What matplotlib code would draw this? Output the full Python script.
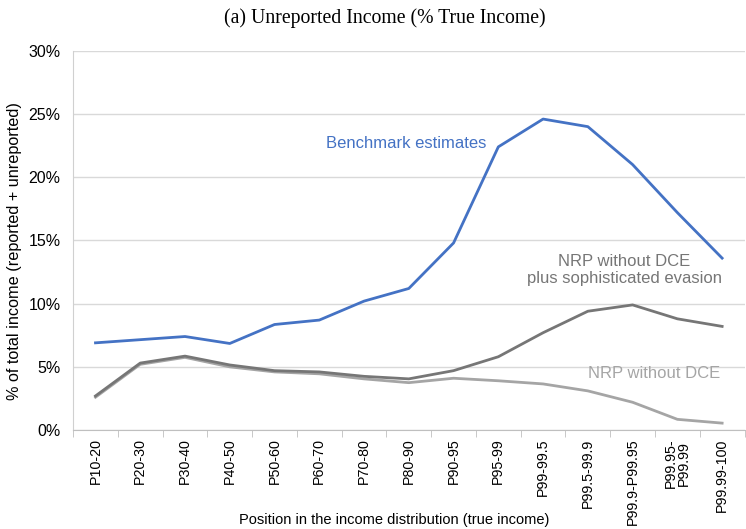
import matplotlib.pyplot as plt
import numpy as np
from matplotlib.ticker import PercentFormatter

plt.rcParams['font.family'] = ['Liberation Sans', 'DejaVu Sans']

# Income groups along the true-income distribution
groups = ['P10-20', 'P20-30', 'P30-40', 'P40-50', 'P50-60', 'P60-70', 'P70-80',
          'P80-90', 'P90-95', 'P95-99', 'P99-99.5', 'P99.5-99.9', 'P99.9-P99.95',
          'P99.95-\nP99.99', 'P99.99-100']

# Unreported income as % of total income
benchmark = [6.9, 7.15, 7.4, 6.85, 8.35, 8.7, 10.2, 11.2, 14.8, 22.4, 24.6, 24.0, 21.0, 17.2, 13.6]
nrp_sophisticated = [2.7, 5.3, 5.85, 5.15, 4.7, 4.6, 4.25, 4.05, 4.7, 5.8, 7.7, 9.4, 9.9, 8.8, 8.2]
nrp_no_dce = [2.6, 5.2, 5.75, 5.0, 4.6, 4.45, 4.05, 3.75, 4.1, 3.9, 3.65, 3.1, 2.2, 0.85, 0.55]

blue = '#4472C4'
dark_gray = '#767676'
light_gray = '#a5a5a5'

fig = plt.figure(figsize=(7.46, 5.29), dpi=100)
ax = fig.add_axes([0.098, 0.187, 0.900, 0.717])

x = np.arange(len(groups))
ax.plot(x, nrp_no_dce, color=light_gray, lw=2)
ax.plot(x, nrp_sophisticated, color=dark_gray, lw=2)
ax.plot(x, benchmark, color=blue, lw=2)

ax.set_xlim(-0.5, len(groups) - 0.5)
ax.set_ylim(0, 30)
ax.set_yticks(np.arange(0, 31, 5))
ax.yaxis.set_major_formatter(PercentFormatter(decimals=0))
ax.grid(axis='y', color='#d9d9d9', lw=1)
ax.set_axisbelow(True)

ax.set_xticks(x)
ax.set_xticklabels(groups, rotation=90, fontsize=10.3, linespacing=0.85)
ax.tick_params(axis='x', which='major', length=0, pad=6)
ax.set_xticks(np.arange(-0.5, len(groups), 1), minor=True)
ax.tick_params(axis='x', which='minor', length=5, color='#bfbfbf')
ax.tick_params(axis='y', length=0, labelsize=11.5, pad=9)

for side in ['top', 'right']:
    ax.spines[side].set_visible(False)
ax.spines['left'].set_color('#d0d0d0')
ax.spines['bottom'].set_color('#bfbfbf')

# axis titles sit at fixed spots, alongside the rotated tick labels
fig.text(0.528, 0.017, 'Position in the income distribution (true income)',
         fontsize=10.5, ha='center', va='center')
fig.text(0.020, 0.526, '% of total income (reported + unreported)', fontsize=11.7,
         rotation=90, ha='center', va='center')
fig.text(0.516, 0.966, '(a) Unreported Income (% True Income)', fontsize=14.2,
         family=['Liberation Serif', 'DejaVu Serif'], ha='center', va='center')

ax.text(6.95, 22.7, 'Benchmark estimates', color=blue, fontsize=12, ha='center', va='center')
ax.text(11.82, 12.66, 'NRP without DCE\nplus sophisticated evasion', color=dark_gray,
        fontsize=12, ha='center', va='center', linespacing=1.15)
ax.text(12.49, 4.5, 'NRP without DCE', color=light_gray, fontsize=12, ha='center', va='center')

fig.savefig('out.png', dpi=100)
